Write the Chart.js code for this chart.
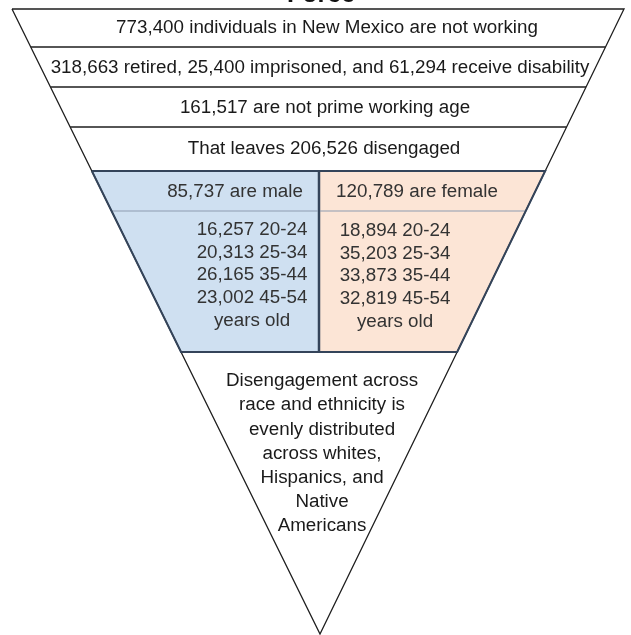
<!DOCTYPE html>
<html>
<head>
<meta charset="utf-8">
<script src="https://cdn.jsdelivr.net/npm/chart.js@4.4.1/dist/chart.umd.min.js"></script>
<style>
  html, body { margin: 0; padding: 0; background: #fff; }
  #funnel { display: block; }
</style>
</head>
<body>
<canvas id="funnel" width="631" height="635"></canvas>
<script>
// numbers shown in the funnel
const notWorking = 773400;
const retired = 318663;
const imprisoned = 25400;
const disability = 61294;
const notPrimeAge = 161517;
const disengaged = 206526;
const maleTotal = 85737;
const femaleTotal = 120789;
const ageGroups = ['20-24', '25-34', '35-44', '45-54'];
const maleByAge = [16257, 20313, 26165, 23002];
const femaleByAge = [18894, 35203, 33873, 32819];
const raceNote = ['Disengagement across', 'race and ethnicity is', 'evenly distributed',
  'across whites,', 'Hispanics, and', 'Native', 'Americans'];

const fmt = n => n.toLocaleString('en-US');

const bandTexts = [
  `${fmt(notWorking)} individuals in New Mexico are not working`,
  `${fmt(retired)} retired, ${fmt(imprisoned)} imprisoned, and ${fmt(disability)} receive disability`,
  `${fmt(notPrimeAge)} are not prime working age`,
  `That leaves ${fmt(disengaged)} disengaged`
];
const maleLines = maleByAge.map((v, i) => `${fmt(v)} ${ageGroups[i]}`).concat(['years old']);
const femaleLines = femaleByAge.map((v, i) => `${fmt(v)} ${ageGroups[i]}`).concat(['years old']);

// layout (in the chart's own units, x 0..631, y 0..635 top-down)
const L = {
  top: 9, left: 12, right: 624, apexX: 320, apexY: 634,
  bands: [9, 47, 87, 127, 171],
  boxTop: 171, boxHead: 211, boxBottom: 352, split: 319
};
const leftAt = y => L.left + (L.apexX - L.left) * (y - L.top) / (L.apexY - L.top);
const rightAt = y => L.right - (L.right - L.apexX) * (y - L.top) / (L.apexY - L.top);

const seg = (pts, color, width, extra) => Object.assign({
  data: pts.map(p => ({ x: p[0], y: p[1] })),
  showLine: true, fill: false, pointRadius: 0, borderColor: color, borderWidth: width,
  tension: 0
}, extra || {});

const datasets = [];
// filled boxes
datasets.push(seg([[leftAt(L.boxTop), L.boxTop], [L.split, L.boxTop], [L.split, L.boxBottom],
  [leftAt(L.boxBottom), L.boxBottom], [leftAt(L.boxTop), L.boxTop]], '#34445a', 2, { polyFill: '#cfe0f1' }));
datasets.push(seg([[L.split, L.boxTop], [rightAt(L.boxTop), L.boxTop], [rightAt(L.boxBottom), L.boxBottom],
  [L.split, L.boxBottom], [L.split, L.boxTop]], '#34445a', 2, { polyFill: '#fce5d6' }));
datasets.push(seg([[leftAt(L.boxHead), L.boxHead], [rightAt(L.boxHead), L.boxHead]], '#8d9bb0', 1));
// triangle outline and band separators
datasets.push(seg([[L.left, L.top], [L.right, L.top], [L.apexX, L.apexY], [L.left, L.top]], '#1e1e1e', 1.3));
L.bands.slice(1, 4).forEach(y => datasets.push(seg([[leftAt(y), y], [rightAt(y), y]], '#1e1e1e', 1.5)));
// redraw the box borders on top of the outline
datasets.push(seg([[leftAt(L.boxTop), L.boxTop], [rightAt(L.boxTop), L.boxTop]], '#34445a', 2));
datasets.push(seg([[L.split, L.boxTop], [L.split, L.boxBottom]], '#34445a', 2.5));

const polyFillPlugin = {
  id: 'polyFill',
  beforeDatasetsDraw(chart) {
    const ctx = chart.ctx;
    chart.data.datasets.forEach((ds, i) => {
      if (!ds.polyFill) return;
      const pts = chart.getDatasetMeta(i).data;
      ctx.save();
      ctx.beginPath();
      pts.forEach((p, k) => k ? ctx.lineTo(p.x, p.y) : ctx.moveTo(p.x, p.y));
      ctx.closePath();
      ctx.fillStyle = ds.polyFill;
      ctx.fill();
      ctx.restore();
    });
  }
};

const textPlugin = {
  id: 'funnelText',
  afterDatasetsDraw(chart) {
    const ctx = chart.ctx;
    const xs = chart.scales.x, ys = chart.scales.y;
    const put = (txt, x, y, color, font) => {
      ctx.fillStyle = color;
      ctx.font = font || '18.8px "Liberation Sans", Arial, sans-serif';
      ctx.fillText(txt, xs.getPixelForValue(x), ys.getPixelForValue(y));
    };
    ctx.save();
    ctx.textAlign = 'center';
    ctx.textBaseline = 'alphabetic';
    put('Force', 321, 2, '#111', 'bold 25px "Liberation Sans", Arial, sans-serif');
    ctx.textBaseline = 'middle';
    const bandY = [28, 68, 108, 149];
    const bandX = [327, 320, 325, 324];
    bandTexts.forEach((t, i) => put(t, bandX[i], bandY[i], '#1a1a1a'));
    put(`${fmt(maleTotal)} are male`, 235, 192, '#333');
    put(`${fmt(femaleTotal)} are female`, 417, 192, '#333');
    maleLines.forEach((t, i) => put(t, 252, 230 + i * 22.6, '#333'));
    femaleLines.forEach((t, i) => put(t, 395, 231 + i * 22.6, '#333'));
    raceNote.forEach((t, i) => put(t, 322, 381 + i * 24.2, '#1a1a1a'));
    ctx.restore();
  }
};

new Chart(document.getElementById('funnel'), {
  type: 'scatter',
  data: { datasets: datasets },
  options: {
    responsive: false,
    animation: false,
    layout: { padding: 0 },
    plugins: { legend: { display: false }, tooltip: { enabled: false } },
    scales: {
      x: { type: 'linear', min: 0, max: 631, display: false },
      y: { type: 'linear', min: 0, max: 635, reverse: true, display: false }
    }
  },
  plugins: [polyFillPlugin, textPlugin]
});
</script>
</body>
</html>
